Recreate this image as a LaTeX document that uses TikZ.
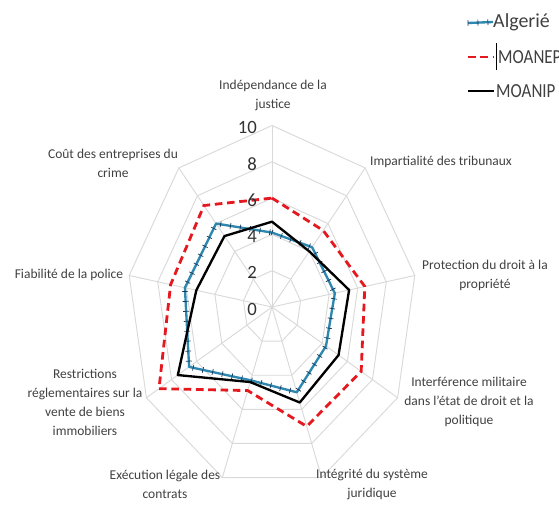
\documentclass[tikz,border=0pt]{standalone}
\usepackage{fontspec}
\setmainfont{Carlito}
\usetikzlibrary{decorations.markings}
\definecolor{gridgray}{RGB}{217,217,217}
\definecolor{labelgray}{RGB}{64,64,64}
\definecolor{scalegray}{RGB}{50,50,50}
\definecolor{algblue}{RGB}{45,135,175}
\definecolor{tickblue}{RGB}{25,55,90}
\definecolor{moanepred}{RGB}{228,24,30}

\begin{document}
\begin{tikzpicture}[x=0.03cm,y=0.03cm,
  gridline/.style={draw=gridgray,line width=0.8pt},
  catlabel/.style={align=center,text=labelgray,font=\fontsize{11.5}{16.2}\selectfont,inner sep=0pt},
  scalelabel/.style={anchor=east,text=scalegray,font=\fontsize{16}{18}\selectfont,inner sep=0pt},
  legtext/.style={anchor=west,text=labelgray,font=\fontsize{17}{20}\selectfont,inner sep=0pt},
  algerie/.style={draw=algblue,line width=2pt,line join=round,
    postaction={decorate,decoration={markings,
      mark=between positions 0 and 1 step 8.5pt with {\draw[tickblue,line width=0.6pt] (0,-2.5pt) -- (0,2.5pt);}}}},
  moanep/.style={draw=moanepred,line width=2.4pt,dash pattern=on 6.5pt off 4pt},
  moanip/.style={draw=black,line width=2pt,line join=round}]

  \useasboundingbox (0,0) rectangle (559,506);
  \clip (0,0) rectangle (559,506);

  % radar grid and series
  \begin{scope}[shift={(272,199)},x=0.435cm,y=0.5445cm]
    \foreach \a in {90,50,...,-230}
      \draw[gridline] (0,0) -- (\a:10);
    \foreach \r in {2,4,...,10}
      \draw[gridline] (90:\r) \foreach \a in {50,10,...,-230} {-- (\a:\r)} -- cycle;

    \draw[algerie] (90:4.1) -- (50:4.3) -- (10:4.4) -- (-30:4.3) -- (-70:5.0)
      -- (-110:4.3) -- (-150:6.6) -- (170:6.1) -- (130:6.0) -- cycle;
    \draw[moanep] (90:6.0) -- (50:5.5) -- (10:6.5) -- (-30:7.1) -- (-70:7.0)
      -- (-110:4.9) -- (-150:9.0) -- (170:7.1) -- (130:7.3) -- cycle;
    \draw[moanip] (90:4.7) -- (50:4.0) -- (10:5.4) -- (-30:5.3) -- (-70:5.6)
      -- (-110:4.4) -- (-150:7.5) -- (170:5.3) -- (130:5.1) -- cycle;
  \end{scope}

  % scale
  \foreach \v in {0,2,...,10}
    \node[scalelabel] (scale\v) at (257,197+\v*18.15) {\v};

  % axis labels
  \node[catlabel] (justice) at (273,411) {Indépendance de la\\justice};
  \node[catlabel] (tribunaux) at (441,344) {Impartialité des tribunaux};
  \node[catlabel] (propriete) at (485,231) {Protection du droit à la\\propriété};
  \node[catlabel] (militaire) at (469,104) {Interférence militaire\\dans l'état de droit et la\\politique};
  \node[catlabel] (integrite) at (372,22) {Intégrité du système\\juridique};
  \node[catlabel] (contrats) at (165,22) {Exécution légale des\\contrats};
  \node[catlabel] (restrictions) at (85,103.5) {Restrictions\\réglementaires sur la\\vente de biens\\immobiliers};
  \node[catlabel] (police) at (69,231) {Fiabilité de la police};
  \node[catlabel] (crime) at (113,343) {Coût des entreprises du\\crime};

  % legend
  \coordinate (legAstart) at (468,483);
  \coordinate (legBstart) at (468,449);
  \coordinate (legCstart) at (468,415);
  \node[legtext] (legA) at (493,484) {Algerié};
  \node[legtext] (legB) at (498,449) {\scalebox{0.85}[1]{MOANEP}};
  \node[legtext] (legC) at (496,415) {\scalebox{0.85}[1]{MOANIP}};
  \draw[algerie] (legAstart) -- (legA.west);
  \draw[moanep] (legBstart) -- (468+26,449);
  \draw[moanip] (legCstart) -- (468+26,415);
  \coordinate (cursortop) at (496,463);
  \coordinate (cursorbot) at (496,436);
  \draw[black,line width=0.8pt] (cursortop) -- (cursorbot);
\end{tikzpicture}
\end{document}
